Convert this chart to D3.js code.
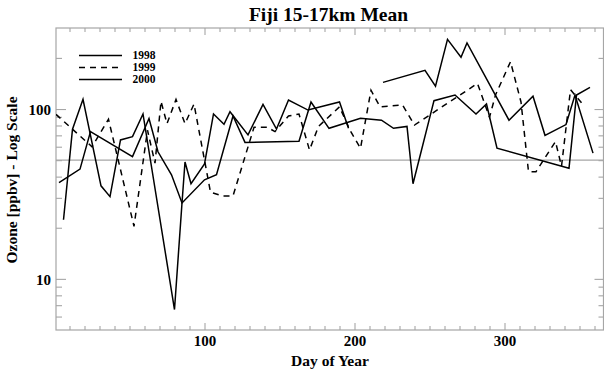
<!DOCTYPE html>
<html><head><meta charset="utf-8">
<script src="https://cdn.jsdelivr.net/npm/d3@7"></script>
<style>
body{margin:0;background:#fff;}
text{font-family:"Liberation Serif","Times New Roman",serif;font-weight:bold;fill:#000;}
</style></head>
<body><svg id="c" width="604" height="374"></svg>
<script>
const title = "Fiji 15-17km Mean";
const xTitle = "Day of Year";
const yTitle = "Ozone [ppbv] - Log Scale";
const seriesNames = ["1998", "1999", "2000"];

const days1998 = [3,17,24,52,63,69,78,85,100,108,119,127,163,171,183,204,218,226,235,239,253,267,281,288,295,343,348,357];
const vals1998 = [36.9,44.3,73.6,52.5,88,56,41,28,38.3,41,91,63.6,64.7,110,77,88.2,86,77,79,36.3,112,121,93.5,107,58.8,44.8,121,134];

const days1999 = [1,25,36,53,62,67,71,75,81,87,93,104,112,119,133,142,147,156,163,170,176,190,197,204,211,217,232,240,282,290,294,304,311,316,321,334,338,344,352];
const vals1999 = [93,60,87,20.4,75,48,111,82,114,82,107,32.4,30.8,30.8,78,78,73.6,91,93.5,57.4,79,103,75,58.8,129,103,105.6,80.5,141.5,89.4,121,190,110,42.8,42.8,64.3,46,130,107];

const days2000 = [6,12,19,31,37,44,52,59,80,85,87,91,100,106,113,117,129,139,148,156,169,190,196,207,219,247,254,262,271,275,303,319,327,341,347,359];
const vals2000 = [22.3,76,114,35.3,30.5,65.8,68.8,93.5,6.6,28,48.8,36.3,47.5,93.5,81.3,96.4,70.4,106.6,76.3,113,98.6,110,77,null,143.5,169,136.5,257,202,245,86,119,70,81,121,55];

const xMajorTicks = [100,200,300];
const xMinorTicks = [10,20,30,40,50,60,70,80,90,110,120,130,140,150,160,170,180,190,210,220,230,240,250,260,270,280,290,310,320,330,340,350,360];
const yMajorTicks = [10,100];
const yMinorTicks = [6,7,8,9,20,30,40,50,60,70,80,90,200];
const refLevel = 50;
const xDomain = [1,366];
const yDomain = [5,300];

const svg = d3.select("#c");
const L=56, R=603.5, T=28, B=330;
const axisColor = "#a6a6a6";
const x = d3.scaleLinear().domain(xDomain).range([L,R]);
const y = d3.scaleLog().domain(yDomain).range([B,T]);

svg.append("rect").attr("width",604).attr("height",374).attr("fill","#fff");

// reference line
svg.append("line").attr("x1",L).attr("x2",R).attr("y1",y(refLevel)).attr("y2",y(refLevel))
  .attr("stroke",axisColor).attr("stroke-width",1.2);

function styleAxis(g){
  g.select(".domain").remove();
  g.selectAll(".tick line").attr("stroke",axisColor).attr("stroke-width",1.1);
}
// left
svg.append("g").attr("transform",`translate(${L},0)`)
  .call(d3.axisLeft(y).tickValues(yMinorTicks).tickSize(-6).tickFormat(""))
  .call(styleAxis);
svg.append("g").attr("transform",`translate(${L},0)`)
  .call(d3.axisLeft(y).tickValues(yMajorTicks).tickSize(-10).tickPadding(5).tickFormat(d3.format("d")))
  .call(styleAxis)
  .call(g=>g.selectAll("text").attr("font-size","15px").attr("font-family","Liberation Serif").attr("font-weight","bold").attr("fill","#000").attr("dy","0.35em"));
// right
svg.append("g").attr("transform",`translate(${R},0)`)
  .call(d3.axisRight(y).tickValues(yMinorTicks).tickSize(-5).tickFormat(""))
  .call(styleAxis);
svg.append("g").attr("transform",`translate(${R},0)`)
  .call(d3.axisRight(y).tickValues(yMajorTicks).tickSize(-9).tickFormat(""))
  .call(styleAxis);
// bottom
svg.append("g").attr("transform",`translate(0,${B})`)
  .call(d3.axisBottom(x).tickValues(xMinorTicks).tickSize(-4).tickFormat(""))
  .call(styleAxis);
svg.append("g").attr("transform",`translate(0,${B})`)
  .call(d3.axisBottom(x).tickValues(xMajorTicks).tickSize(-7).tickPadding(5).tickFormat(d3.format("d")))
  .call(styleAxis)
  .call(g=>g.selectAll("text").attr("font-size","15px").attr("font-family","Liberation Serif").attr("font-weight","bold").attr("fill","#000").attr("dy","0.71em"));
// top
svg.append("g").attr("transform",`translate(0,${T})`)
  .call(d3.axisTop(x).tickValues(xMinorTicks).tickSize(-4).tickFormat(""))
  .call(styleAxis);
svg.append("g").attr("transform",`translate(0,${T})`)
  .call(d3.axisTop(x).tickValues(xMajorTicks).tickSize(-7).tickFormat(""))
  .call(styleAxis);

// frame
svg.append("rect").attr("x",L).attr("y",T).attr("width",R-L).attr("height",B-T)
  .attr("fill","none").attr("stroke",axisColor).attr("stroke-width",1.2);

// data lines
const clip = svg.append("clipPath").attr("id","pc").append("rect")
  .attr("x",L).attr("y",T).attr("width",R-L).attr("height",B-T);
const line = d3.line().defined(d=>d[1]!=null).x(d=>x(d[0])).y(d=>y(d[1]));
const series = [
  {days:days1998, vals:vals1998, dash:null},
  {days:days1999, vals:vals1999, dash:"6,5"},
  {days:days2000, vals:vals2000, dash:null}
];
const gData = svg.append("g").attr("clip-path","url(#pc)");
series.forEach(s=>{
  const pts = s.days.map((d,i)=>[d,s.vals[i]]);
  gData.append("path").attr("d",line(pts)).attr("fill","none").attr("stroke","#000")
    .attr("stroke-width",1.5).attr("stroke-dasharray",s.dash);
});

// legend
const lg = svg.append("g");
series.forEach((s,i)=>{
  const ly = 55.5 + i*12;
  lg.append("line").attr("x1",79).attr("x2",122).attr("y1",ly).attr("y2",ly)
    .attr("stroke","#000").attr("stroke-width",1.5).attr("stroke-dasharray",s.dash);
  lg.append("text").attr("x",132.5).attr("y",ly+3.8).attr("font-size","11.5px").text(seriesNames[i]);
});

// titles
svg.append("text").attr("x",328.5).attr("y",20.5).attr("text-anchor","middle").attr("font-size","19.5px").text(title);
svg.append("text").attr("x",330).attr("y",366).attr("text-anchor","middle").attr("font-size","15.5px").text(xTitle);
svg.append("text").attr("transform","translate(17,180) rotate(-90)").attr("text-anchor","middle").attr("font-size","15.5px").text(yTitle);
</script></body></html>
